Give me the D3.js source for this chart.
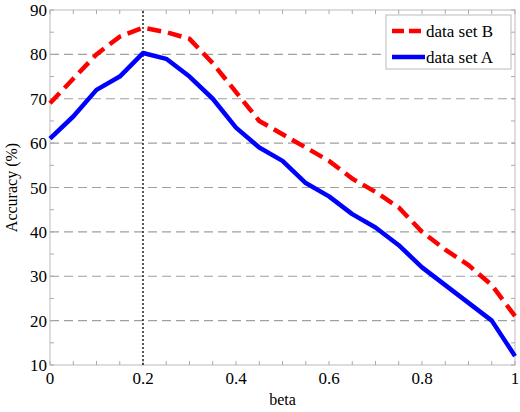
<!DOCTYPE html>
<html><head><meta charset="utf-8">
<script src="https://cdn.jsdelivr.net/npm/d3@7"></script>
<style>body{margin:0;background:#fff}text{font-family:"Liberation Serif","Times New Roman",serif}</style>
</head><body><div id="chart"></div>
<script>
// x values and the two series
const betas = d3.range(21).map(i => +(i * 0.05).toFixed(2));
const setA = [61, 66, 72, 75, 80.3, 79, 75, 70, 63.5, 59, 56, 51, 48, 44, 41, 37, 32, 28, 24, 20, 12];
const setB = [69, 74.5, 80, 84, 86, 85, 83.5, 78, 71.5, 65, 62, 59, 56, 52, 49, 45.5, 40, 36, 32.5, 28, 21];
const xTicks = [0, 0.2, 0.4, 0.6, 0.8, 1];
const yTicks = [10, 20, 30, 40, 50, 60, 70, 80, 90];
const markX = 0.2;

const width = 520, height = 412;
const m = {left: 50, right: 5, top: 10, bottom: 47};
const svg = d3.select("#chart").append("svg").attr("width", width).attr("height", height);

const x = d3.scaleLinear().domain([0, 1]).range([m.left, width - m.right]);
const y = d3.scaleLinear().domain([10, 90]).range([height - m.bottom, m.top]);

// dashed grid
svg.append("g").selectAll("line").data(yTicks.slice(1, -1)).enter().append("line")
   .attr("x1", x(0)).attr("x2", x(1))
   .attr("y1", d => y(d)).attr("y2", d => y(d))
   .attr("stroke", "#a0a0a0").attr("stroke-width", 1.2).attr("stroke-dasharray", "9,5");

// frame
svg.append("rect").attr("x", x(0)).attr("y", y(90))
   .attr("width", x(1) - x(0)).attr("height", y(10) - y(90))
   .attr("fill", "none").attr("stroke", "#bbb");

// minor ticks (inward)
const tg = svg.append("g").attr("stroke", "#aaa");
d3.range(0, 1.0001, 0.05).forEach(v => {
    tg.append("line").attr("x1", x(v)).attr("x2", x(v)).attr("y1", y(10)).attr("y2", y(10) - 4);
    tg.append("line").attr("x1", x(v)).attr("x2", x(v)).attr("y1", y(90)).attr("y2", y(90) + 4);
});
d3.range(10, 90.001, 5).forEach(v => {
    tg.append("line").attr("x1", x(0)).attr("x2", x(0) + 4).attr("y1", y(v)).attr("y2", y(v));
    tg.append("line").attr("x1", x(1)).attr("x2", x(1) - 4).attr("y1", y(v)).attr("y2", y(v));
});

// tick labels
svg.append("g").selectAll("text").data(xTicks).enter().append("text")
   .attr("x", d => x(d)).attr("y", y(10) + 19).attr("text-anchor", "middle")
   .attr("font-size", 17).text(d => d);
svg.append("g").selectAll("text").data(yTicks).enter().append("text")
   .attr("x", x(0) - 3).attr("y", d => y(d) + 6).attr("text-anchor", "end")
   .attr("font-size", 17).text(d => d);

svg.append("text").attr("x", x(0.5)).attr("y", 405).attr("text-anchor", "middle")
   .attr("font-size", 16).text("beta");
svg.append("text").attr("transform", `translate(17,${(y(10) + y(90)) / 2}) rotate(-90)`)
   .attr("text-anchor", "middle").attr("font-size", 16).text("Accuracy (%)");

// vertical marker
svg.append("line").attr("x1", x(markX)).attr("x2", x(markX)).attr("y1", y(10)).attr("y2", y(90))
   .attr("stroke", "#000").attr("stroke-width", 1.3).attr("stroke-dasharray", "2,2");

const line = d3.line().x((d, i) => x(betas[i])).y(d => y(d));
svg.append("path").datum(setA).attr("d", line).attr("fill", "none")
   .attr("stroke", "#0000ff").attr("stroke-width", 4.5).attr("stroke-linejoin", "round");
svg.append("path").datum(setB).attr("d", line).attr("fill", "none")
   .attr("stroke", "#ff0000").attr("stroke-width", 4.5).attr("stroke-dasharray", "14,7");

// legend
const lg = svg.append("g").attr("transform", "translate(386,15)");
lg.append("rect").attr("width", 125).attr("height", 54).attr("fill", "#fff").attr("stroke", "#bbb");
[["data set B", "#ff0000", "12,5"], ["data set A", "#0000ff", null]].forEach((e, i) => {
    const yy = 16 + i * 26;
    lg.append("line").attr("x1", 6).attr("x2", 39).attr("y1", yy).attr("y2", yy)
      .attr("stroke", e[1]).attr("stroke-width", 4.5).attr("stroke-dasharray", e[2]);
    lg.append("text").attr("x", 40).attr("y", yy + 6).attr("font-size", 17).text(e[0]);
});
</script></body></html>
